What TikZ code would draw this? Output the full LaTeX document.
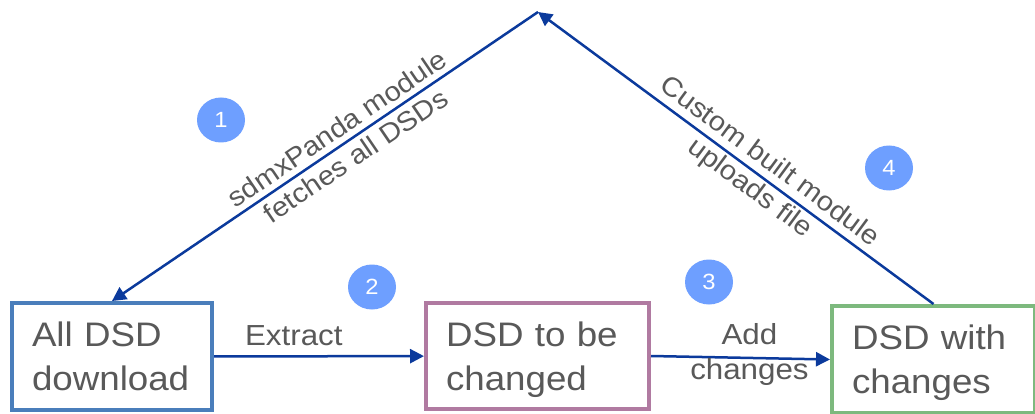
\documentclass[tikz,border=0pt]{standalone}
\usepackage{fontspec}
\setmainfont{Liberation Sans}[FakeStretch=1.08]
\usetikzlibrary{arrows.meta,shapes.geometric}
\definecolor{ink}{HTML}{595959}
\definecolor{flow}{HTML}{0B3A9C}
\definecolor{boxA}{HTML}{4A7EBB}
\definecolor{boxB}{HTML}{B07AA1}
\definecolor{boxC}{HTML}{7DB97E}
\definecolor{badge}{HTML}{6E9FFF}
% uniform line height for the two-line box captions
\newcommand\boxstrut{\rule[-9pt]{0pt}{42pt}}
\begin{document}
\begin{tikzpicture}[x=1pt,y=-1pt,
  stage/.style={draw, line width=4pt, fill=white, align=left,
    inner xsep=20pt, inner ysep=0pt, text=ink,
    font=\fontsize{34}{44}\selectfont},
  lbl/.style={text=ink, align=center, inner sep=0pt,
    font=\fontsize{29}{35}\selectfont},
  slbl/.style={lbl, font=\fontsize{27}{33}\selectfont},
  num/.style={ellipse, fill=badge, draw=none, text=white, inner sep=0pt,
    minimum width=48pt, minimum height=45pt,
    font=\fontsize{22}{22}\selectfont},
  arr/.style={draw=flow, line width=2.5pt,
    -{Triangle[length=14pt,width=14pt]}}]
\clip (0,0) rectangle (1035,414);
\fill[white] (0,0) rectangle (1035,414);

% process stages
\node[stage, draw=boxA, text width=160pt, minimum height=107pt]
  (all) at (112,356.5) {\boxstrut All DSD\\\boxstrut download};
\node[stage, draw=boxB, text width=183pt, minimum height=106pt]
  (sel) at (537.5,356) {\boxstrut DSD to be\\\boxstrut changed};
\node[stage, draw=boxC, text width=163pt, minimum height=107pt]
  (mod) at (933.5,359.5) {\boxstrut DSD with\\\boxstrut changes};

% registry at the top of the loop
\coordinate (reg) at (538,12);

% flow connectors
\draw[arr] (reg) -- node[slbl, sloped, pos=0.45]
  {sdmxPanda module\\fetches all DSDs} (all.north);
\draw[arr] (all) -- node[lbl, pos=0.38, anchor=base, yshift=11pt] (ext) {Extract} (sel);
\draw[arr] (sel.east) -- node[lbl, pos=0.55, yshift=3pt] (add) {Add\\changes} (mod.west);
\draw[arr] (mod.north) -- node[slbl, sloped, pos=0.44]
  {Custom built module\\uploads file} (reg);

% step badges
\node[num] (n1) at (221,120) {1};
\node[num] (n2) at (372,287) {2};
\node[num] (n3) at (709,282) {3};
\node[num] (n4) at (889,168) {4};
\end{tikzpicture}
\end{document}
